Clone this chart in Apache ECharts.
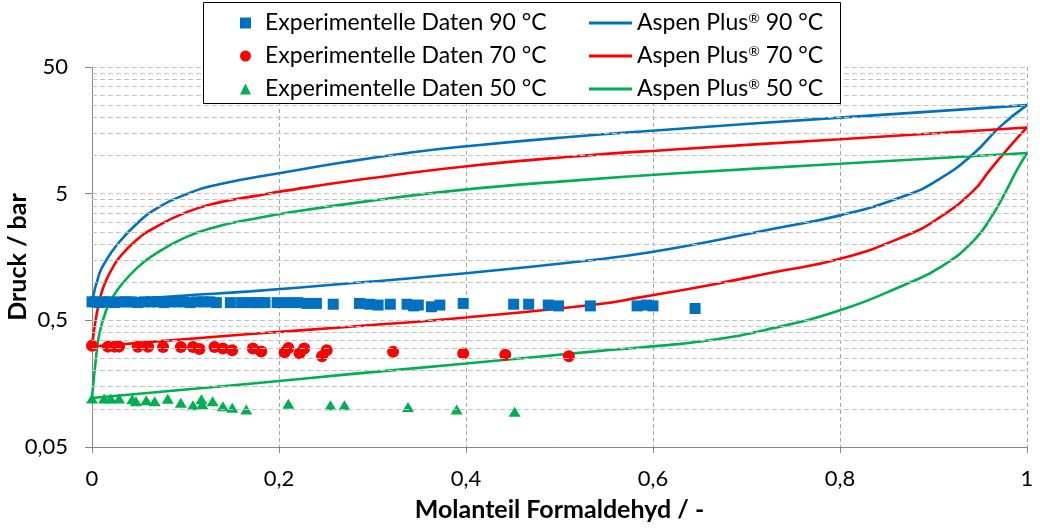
<!DOCTYPE html>
<html>
<head>
<meta charset="utf-8">
<script src="https://cdn.jsdelivr.net/npm/echarts@6/dist/echarts.min.js"></script>
<style>
  html, body { margin: 0; padding: 0; background: #fff; }
  #chart { width: 1040px; height: 528px; }
</style>
</head>
<body>
<div id="chart"></div>
<script>
// Experimental data: mole fraction formaldehyde (-) and pressure (bar)
const exp90X = [0, 0.004, 0.008, 0.013, 0.018, 0.024, 0.03, 0.036, 0.042, 0.049, 0.056, 0.063, 0.07, 0.077, 0.084, 0.091, 0.098, 0.105, 0.112, 0.119, 0.126, 0.133,
                0.148, 0.16, 0.17, 0.178, 0.185, 0.198, 0.209, 0.22, 0.23, 0.24, 0.258, 0.286, 0.297, 0.306, 0.319, 0.337, 0.344, 0.349, 0.363, 0.372,
                0.397, 0.451, 0.467, 0.488, 0.499, 0.533, 0.583, 0.593, 0.6, 0.645];
const exp90P = [0.70, 0.70, 0.69, 0.70, 0.70, 0.69, 0.70, 0.70, 0.70, 0.69, 0.70, 0.70, 0.70, 0.69, 0.70, 0.70, 0.70, 0.69, 0.70, 0.70, 0.70, 0.69,
                0.69, 0.69, 0.69, 0.69, 0.69, 0.69, 0.69, 0.69, 0.68, 0.68, 0.67, 0.68, 0.67, 0.66, 0.67, 0.67, 0.65, 0.66, 0.64, 0.66,
                0.68, 0.67, 0.67, 0.66, 0.65, 0.65, 0.65, 0.66, 0.65, 0.62];

const exp70X = [0, 0.017, 0.024, 0.029, 0.049, 0.060, 0.076, 0.095, 0.108, 0.115, 0.131, 0.140, 0.150, 0.172, 0.181, 0.206, 0.210, 0.222, 0.227, 0.246, 0.251, 0.322, 0.397, 0.442, 0.510];
const exp70P = [0.315, 0.31, 0.31, 0.31, 0.309, 0.309, 0.308, 0.308, 0.308, 0.297, 0.308, 0.30, 0.29, 0.30, 0.284, 0.28, 0.302, 0.275, 0.30, 0.26, 0.29, 0.283, 0.274, 0.267, 0.26];

const exp50X = [0, 0.013, 0.02, 0.029, 0.043, 0.047, 0.058, 0.067, 0.081, 0.095, 0.108, 0.117, 0.118, 0.129, 0.14, 0.15, 0.165, 0.21, 0.255, 0.27, 0.338, 0.39, 0.452];
const exp50P = [0.121, 0.121, 0.121, 0.121, 0.119, 0.115, 0.117, 0.115, 0.12, 0.112, 0.107, 0.119, 0.109, 0.115, 0.105, 0.102, 0.099, 0.11, 0.107, 0.107, 0.1035, 0.099, 0.095];

// Aspen Plus model: upper branch (bubble) and lower branch (dew)
const asp90UpX = [0, 0.0078, 0.015, 0.0221, 0.0292, 0.0471, 0.0649, 0.1005, 0.1361, 0.2, 0.2724, 0.3433, 0.4008, 0.5005, 0.5989, 0.8, 1];
const asp90UpP = [0.70, 1.163, 1.482, 1.779, 2.077, 2.857, 3.654, 4.937, 5.924, 7.24, 8.93, 10.62, 11.85, 13.83, 15.71, 19.92, 25.0];
const asp90LoX = [0, 0.1, 0.169, 0.276, 0.4, 0.543, 0.597, 0.657, 0.729, 0.8, 0.871, 0.907, 0.943, 0.971, 1];
const asp90LoP = [0.70, 0.785, 0.847, 0.98, 1.176, 1.52, 1.724, 2.07, 2.642, 3.37, 4.85, 6.57, 10.37, 16.84, 25.0];

const asp70UpX = [0, 0.0043, 0.0096, 0.015, 0.0222, 0.0292, 0.047, 0.0649, 0.1005, 0.1361, 0.1719, 0.2075, 0.2973, 0.4008, 0.5112, 0.6182, 0.8, 1];
const asp70UpP = [0.31, 0.524, 0.797, 1.029, 1.305, 1.565, 2.134, 2.642, 3.556, 4.267, 4.761, 5.283, 6.608, 8.229, 9.781, 11.11, 13.46, 16.66];
const asp70LoX = [0, 0.169, 0.276, 0.4, 0.543, 0.586, 0.657, 0.729, 0.8, 0.871, 0.907, 0.943, 0.96, 0.978, 1];
const asp70LoP = [0.31, 0.39, 0.445, 0.527, 0.673, 0.759, 0.939, 1.197, 1.529, 2.338, 3.264, 5.31, 7.64, 11.0, 16.66];

const asp50UpX = [0, 0.0043, 0.0078, 0.015, 0.0221, 0.0292, 0.0471, 0.0649, 0.1005, 0.1361, 0.1719, 0.2075, 0.2973, 0.4008, 0.5112, 0.6182, 0.8, 1];
const asp50UpP = [0.122, 0.254, 0.39, 0.596, 0.759, 0.911, 1.274, 1.623, 2.267, 2.78, 3.158, 3.524, 4.385, 5.409, 6.314, 7.175, 8.609, 10.48];
const asp50LoX = [0, 0.169, 0.276, 0.4, 0.543, 0.586, 0.657, 0.72, 0.8, 0.871, 0.907, 0.943, 0.964, 0.978, 0.989, 1];
const asp50LoP = [0.122, 0.158, 0.188, 0.228, 0.287, 0.305, 0.345, 0.42, 0.60, 0.969, 1.31, 2.13, 3.47, 5.31, 7.64, 10.48];

// Axis ticks
const yTicks = [0.05, 0.5, 5, 50];
const yMinorFactors = [2, 3, 4, 5, 6, 7, 8, 9];

const names = {
  e90: 'Experimentelle Daten 90 °C',
  e70: 'Experimentelle Daten 70 °C',
  e50: 'Experimentelle Daten 50 °C',
  a90: 'Aspen Plus® 90 °C',
  a70: 'Aspen Plus® 70 °C',
  a50: 'Aspen Plus® 50 °C'
};
const colors = { c90: '#0070C0', c70: '#FF0000', c50: '#00B050' };

const pairs = (xs, ys) => xs.map((x, i) => [x, ys[i]]);
const fmtComma = v => String(parseFloat(Number(v).toPrecision(6))).replace('.', ',');

// horizontal log grid: minor lines inside each decade plus the major ones
const gridValues = [];
yTicks.slice(0, -1).forEach(b => yMinorFactors.forEach(k => gridValues.push(b * k)));
yTicks.slice(1).forEach(v => gridValues.push(v));

const FONT = 'Lato';

function scatter(name, xs, ys, symbol, size, color) {
  return {
    name, type: 'scatter', data: pairs(xs, ys), symbol, symbolSize: size,
    itemStyle: { color, opacity: 1 }, z: 4, animation: false
  };
}
function curve(name, xs, ys, color) {
  return {
    name, type: 'line', data: pairs(xs, ys), symbol: 'none', showSymbol: false,
    smooth: 0.5,
    lineStyle: { color, width: 2.6 }, itemStyle: { color }, z: 3, animation: false
  };
}

const chart = echarts.init(document.getElementById('chart'), null, { renderer: 'canvas' });

chart.setOption({
  backgroundColor: '#ffffff',
  animation: false,
  textStyle: { fontFamily: FONT },
  grid: { left: 92, right: 13, top: 67, bottom: 81, containLabel: false, outerBoundsMode: 'none' },
  xAxis: {
    type: 'value', min: 0, max: 1, interval: 0.2,
    name: 'Molanteil Formaldehyd / -', nameLocation: 'middle', nameGap: 50, nameMoveOverlap: false,
    nameTextStyle: { fontFamily: FONT, fontSize: 25, fontWeight: 'bold', color: '#000' },
    axisLine: { show: true, onZero: false, lineStyle: { color: '#868686', width: 1 } },
    axisTick: { show: true, length: 6, lineStyle: { color: '#868686' } },
    axisLabel: { fontFamily: FONT, fontSize: 22, color: '#000', margin: 21, formatter: fmtComma },
    splitLine: { show: true, lineStyle: { color: '#a6a6a6', type: [4, 3], width: 1 } }
  },
  yAxis: {
    type: 'log', logBase: 10, min: 0.05, max: 50,
    name: 'Druck / bar', nameLocation: 'middle', nameGap: 62, nameMoveOverlap: false,
    nameTextStyle: { fontFamily: FONT, fontSize: 25, fontWeight: 'bold', color: '#000' },
    axisLine: { show: true, lineStyle: { color: '#868686', width: 1 } },
    axisTick: { show: true, length: 7, customValues: yTicks, lineStyle: { color: '#868686' } },
    axisLabel: { fontFamily: FONT, fontSize: 22, color: '#000', margin: 24, customValues: yTicks, formatter: fmtComma },
    splitLine: { show: false },
    minorTick: { show: false }
  },
  legend: [
    {
      data: [
        { name: names.e90, icon: 'rect' },
        { name: names.e70, icon: 'circle' },
        { name: names.e50, icon: 'triangle' }
      ],
      orient: 'vertical', left: 235, top: 6, itemWidth: 11, itemHeight: 11, itemGap: 9,
      textStyle: { fontFamily: FONT, fontSize: 23, color: '#000', lineHeight: 24, padding: [0, 0, 0, 9] },
      z: 60, selectedMode: false
    },
    {
      data: [
        { name: names.a90, icon: 'rect' },
        { name: names.a70, icon: 'rect' },
        { name: names.a50, icon: 'rect' }
      ],
      orient: 'vertical', left: 584, top: 6, itemWidth: 43, itemHeight: 3, itemGap: 9,
      formatter: n => n.replace('®', '{sup|®}'),
      textStyle: {
        fontFamily: FONT, fontSize: 23, color: '#000', lineHeight: 24,
        rich: { sup: { fontFamily: FONT, fontSize: 14, color: '#000', verticalAlign: 'top', lineHeight: 14 } }
      },
      z: 60, selectedMode: false
    }
  ],
  graphic: [
    {
      type: 'rect', z: 50, silent: true,
      shape: { x: 203.5, y: 2.5, width: 637, height: 101 },
      style: { fill: '#ffffff', stroke: '#000000', lineWidth: 1 }
    }
  ],
  series: [
    {
      name: 'grid', type: 'line', data: [], z: 1, silent: true, animation: false,
      markLine: {
        silent: true, symbol: ['none', 'none'], animation: false,
        label: { show: false },
        lineStyle: { color: '#c4c4c4', type: [5, 3], width: 1 },
        emphasis: { disabled: true },
        data: gridValues.map(v => ({ yAxis: v }))
      }
    },
    curve(names.a90, asp90UpX, asp90UpP, colors.c90),
    curve(names.a90, asp90LoX, asp90LoP, colors.c90),
    curve(names.a70, asp70UpX, asp70UpP, colors.c70),
    curve(names.a70, asp70LoX, asp70LoP, colors.c70),
    curve(names.a50, asp50UpX, asp50UpP, colors.c50),
    curve(names.a50, asp50LoX, asp50LoP, colors.c50),
    scatter(names.e90, exp90X, exp90P, 'rect', 11, colors.c90),
    scatter(names.e70, exp70X, exp70P, 'circle', 12, colors.c70),
    scatter(names.e50, exp50X, exp50P, 'triangle', [12, 10], colors.c50)
  ]
});
</script>
</body>
</html>
